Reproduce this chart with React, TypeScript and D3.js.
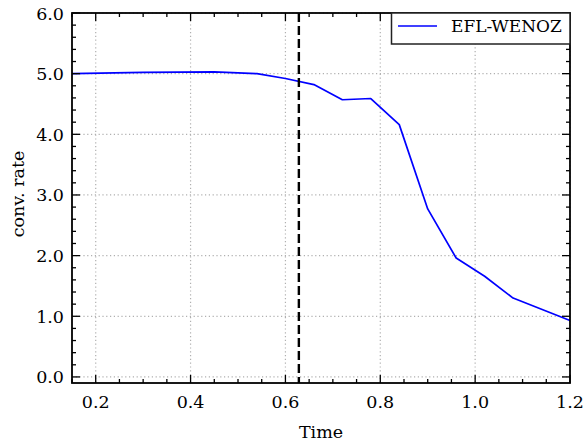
import React, { useEffect, useRef } from "react";
import * as d3 from "d3";

const times = [0.15, 0.3, 0.45, 0.54, 0.6, 0.66, 0.72, 0.78, 0.84, 0.9, 0.96, 1.02, 1.08, 1.2];
const rates = [5.0, 5.02, 5.03, 5.0, 4.92, 4.82, 4.57, 4.59, 4.16, 2.77, 1.96, 1.66, 1.3, 0.93];
const xTicks = [0.2, 0.4, 0.6, 0.8, 1.0, 1.2];
const yTicks = [0, 1, 2, 3, 4, 5, 6];
const markerTime = 0.2 * Math.PI;
const seriesName = "EFL-WENOZ";

const W = 587, H = 445;
const M = { l: 72, r: 570, t: 13, b: 383 };
const FONT = "'DejaVu Serif', serif";

export default function App() {
  const ref = useRef<SVGSVGElement>(null);
  useEffect(() => {
    const svg = d3.select(ref.current);
    svg.selectAll("*").remove();
    const x = d3.scaleLinear().domain([0.15, 1.2]).range([M.l, M.r]);
    const y = d3.scaleLinear().domain([-0.1, 6.0]).range([M.b, M.t]);

    svg.append("rect").attr("width", W).attr("height", H).attr("fill", "white");

    const g = svg.append("g");
    g.selectAll(".gx").data(xTicks).enter().append("line")
      .attr("x1", d => x(d)).attr("x2", d => x(d)).attr("y1", M.t).attr("y2", M.b)
      .attr("stroke", "#b0b0b0").attr("stroke-width", 1.2).attr("stroke-dasharray", "1.2,2.6");
    g.selectAll(".gy").data(yTicks).enter().append("line")
      .attr("x1", M.l).attr("x2", M.r).attr("y1", d => y(d)).attr("y2", d => y(d))
      .attr("stroke", "#b0b0b0").attr("stroke-width", 1.2).attr("stroke-dasharray", "1.2,2.6");

    const line = d3.line<number>().x((_, i) => x(times[i])).y(d => y(d));
    g.append("path").datum(rates).attr("d", line).attr("fill", "none")
      .attr("stroke", "#0000ff").attr("stroke-width", 1.7).attr("stroke-linejoin", "round");

    g.append("line").attr("x1", x(markerTime)).attr("x2", x(markerTime))
      .attr("y1", M.t).attr("y2", M.b).attr("stroke", "black").attr("stroke-width", 2.4)
      .attr("stroke-dasharray", "9,4");

    const xMinor = d3.range(0.15, 1.2001, 0.05).map(v => +v.toFixed(2));
    const yMinor = d3.range(0, 6.0001, 0.2).map(v => +v.toFixed(1));
    const tk = svg.append("g").attr("stroke", "black").attr("stroke-width", 1.3);
    const isMajX = (v: number) => xTicks.some(t => Math.abs(t - v) < 1e-6);
    const isMajY = (v: number) => yTicks.some(t => Math.abs(t - v) < 1e-6);
    xMinor.forEach(v => {
      const len = isMajX(v) ? 8 : 4;
      tk.append("line").attr("x1", x(v)).attr("x2", x(v)).attr("y1", M.b).attr("y2", M.b - len);
      tk.append("line").attr("x1", x(v)).attr("x2", x(v)).attr("y1", M.t).attr("y2", M.t + len);
    });
    yMinor.forEach(v => {
      const len = isMajY(v) ? 8 : 4;
      tk.append("line").attr("x1", M.l).attr("x2", M.l + len).attr("y1", y(v)).attr("y2", y(v));
      tk.append("line").attr("x1", M.r).attr("x2", M.r - len).attr("y1", y(v)).attr("y2", y(v));
    });

    svg.append("rect").attr("x", M.l).attr("y", M.t).attr("width", M.r - M.l).attr("height", M.b - M.t)
      .attr("fill", "none").attr("stroke", "black").attr("stroke-width", 1.8);

    svg.selectAll(".xl").data(xTicks).enter().append("text")
      .attr("x", d => x(d)).attr("y", 408).attr("text-anchor", "middle")
      .attr("font-family", FONT).attr("font-size", 17.5).text(d => d.toFixed(1));
    svg.selectAll(".yl").data(yTicks).enter().append("text")
      .attr("x", 64).attr("y", d => y(d) + 6.5).attr("text-anchor", "end")
      .attr("font-family", FONT).attr("font-size", 17.5).text(d => d.toFixed(1));

    svg.append("text").attr("x", (M.l + M.r) / 2).attr("y", 438).attr("text-anchor", "middle")
      .attr("font-family", FONT).attr("font-size", 17.5).text("Time");
    svg.append("text").attr("transform", `translate(24,194) rotate(-90)`)
      .attr("text-anchor", "middle").attr("font-family", FONT).attr("font-size", 17.5).text("conv. rate");

    const lg = svg.append("g");
    lg.append("rect").attr("x", 391.5).attr("y", M.t).attr("width", M.r - 391.5).attr("height", 31)
      .attr("fill", "white").attr("stroke", "#222").attr("stroke-width", 1.5);
    lg.append("line").attr("x1", 398).attr("x2", 437).attr("y1", 26).attr("y2", 26)
      .attr("stroke", "#0000ff").attr("stroke-width", 1.7);
    lg.append("text").attr("x", 451).attr("y", 32).attr("font-family", FONT).attr("font-size", 17)
      .text(seriesName);
  }, []);
  return (
    <svg ref={ref} width={W} height={H} style={{ position: "absolute", left: 0, top: 0 }} />
  );
}
